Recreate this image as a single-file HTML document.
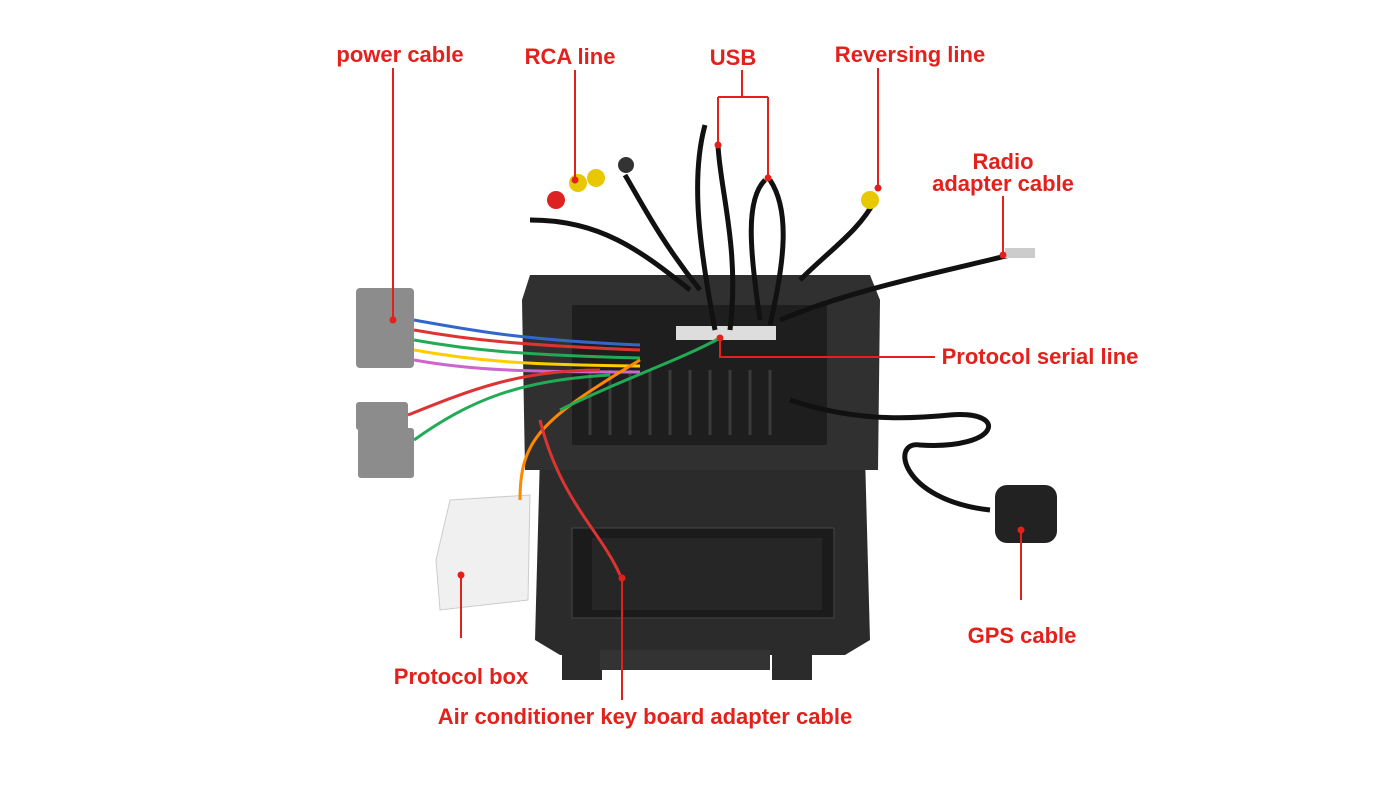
<!DOCTYPE html>
<html><head><meta charset="utf-8"><style>
html,body{margin:0;padding:0;background:#fff;}
body{width:1400px;height:788px;position:relative;overflow:hidden;font-family:"Liberation Sans",sans-serif;}
.l{position:absolute;color:#e4201c;font-weight:bold;font-size:22px;white-space:nowrap;transform:translateX(-50%);text-align:center;line-height:22px;}
svg{position:absolute;left:0;top:0;}
</style></head><body>
<svg width="1400" height="788" viewBox="0 0 1400 788">
  <!-- lower panel -->
  <path d="M540 455 L865 455 L870 640 L845 655 L560 655 L535 640 Z" fill="#2b2b2b"/>
  <rect x="572" y="528" width="262" height="90" fill="#1b1b1b" stroke="#444"/>
  <rect x="592" y="538" width="230" height="72" fill="#262626"/>
  <rect x="562" y="645" width="40" height="35" fill="#2b2b2b"/>
  <rect x="772" y="645" width="40" height="35" fill="#2b2b2b"/>
  <rect x="600" y="650" width="170" height="20" fill="#333"/>
  <!-- upper unit -->
  <path d="M530 275 L870 275 L880 300 L878 470 L525 470 L522 300 Z" fill="#303030"/>
  <rect x="572" y="305" width="255" height="140" fill="#1e1e1e"/>
  <g stroke="#3a3a3a" stroke-width="3">
    <line x1="590" y1="370" x2="590" y2="435"/><line x1="610" y1="370" x2="610" y2="435"/>
    <line x1="630" y1="370" x2="630" y2="435"/><line x1="650" y1="370" x2="650" y2="435"/>
    <line x1="670" y1="370" x2="670" y2="435"/><line x1="690" y1="370" x2="690" y2="435"/>
    <line x1="710" y1="370" x2="710" y2="435"/><line x1="730" y1="370" x2="730" y2="435"/>
    <line x1="750" y1="370" x2="750" y2="435"/><line x1="770" y1="370" x2="770" y2="435"/>
  </g>
  <rect x="676" y="326" width="100" height="14" fill="#ddd"/>
  <!-- grey connectors -->
  <rect x="356" y="288" width="58" height="80" rx="4" fill="#8c8c8c"/>
  <rect x="356" y="402" width="52" height="28" rx="3" fill="#8c8c8c"/>
  <rect x="358" y="428" width="56" height="50" rx="3" fill="#8c8c8c"/>
  <!-- protocol box -->
  <path d="M450 500 L530 495 L528 600 L440 610 L436 560 Z" fill="#f0f0f0" stroke="#ccc"/>
  <!-- wires -->
  <g fill="none" stroke-width="3">
    <path d="M414 330 C470 340 520 345 640 350" stroke="#d33"/>
    <path d="M414 340 C470 350 520 355 640 358" stroke="#2a5"/>
    <path d="M414 350 C470 360 520 365 640 366" stroke="#fc0"/>
    <path d="M414 320 C470 330 520 340 640 345" stroke="#36c"/>
    <path d="M414 360 C470 370 520 372 640 372" stroke="#c6c"/>
    <path d="M408 415 C470 390 520 370 600 370" stroke="#d33"/>
    <path d="M414 440 C470 400 520 380 610 375" stroke="#2a5"/>
    <path d="M520 500 C520 440 540 420 640 360" stroke="#f80"/>
    <path d="M620 575 C600 530 560 500 540 420" stroke="#d33"/>
    <path d="M560 410 C620 380 680 360 720 338" stroke="#2a5"/>
  </g>
  <g fill="none" stroke="#111" stroke-width="5">
    <path d="M715 330 C700 250 690 180 705 125"/>
    <path d="M730 330 C740 250 720 190 718 145"/>
    <path d="M760 320 C750 250 745 200 765 180"/>
    <path d="M770 325 C785 260 790 210 770 180"/>
    <path d="M780 320 C850 290 950 270 1010 255"/>
    <path d="M790 400 C850 420 900 420 950 415 C1010 410 1000 450 920 445 C890 440 900 500 990 510"/>
    <path d="M690 290 C640 250 600 220 530 220"/>
    <path d="M700 290 C660 240 640 200 625 175"/>
    <path d="M800 280 C830 250 860 230 875 200"/>
  </g>
  <circle cx="578" cy="183" r="9" fill="#e8c800"/><circle cx="596" cy="178" r="9" fill="#e8c800"/>
  <circle cx="556" cy="200" r="9" fill="#d22"/><circle cx="626" cy="165" r="8" fill="#333"/>
  <circle cx="870" cy="200" r="9" fill="#e8c800"/>
  <rect x="1005" y="248" width="30" height="10" fill="#ccc"/>
  <!-- GPS puck -->
  <rect x="995" y="485" width="62" height="58" rx="12" fill="#222"/>
  <!-- leader lines -->
  <g stroke="#e4201c" stroke-width="2" fill="none">
    <line x1="393" y1="68" x2="393" y2="320"/>
    <line x1="575" y1="70" x2="575" y2="180"/>
    <path d="M742 70 L742 97 M718 97 L768 97 M718 97 L718 145 M768 97 L768 178"/>
    <line x1="878" y1="68" x2="878" y2="188"/>
    <line x1="1003" y1="196" x2="1003" y2="255"/>
    <path d="M720 338 L720 357 L935 357"/>
    <line x1="1021" y1="530" x2="1021" y2="600"/>
    <line x1="461" y1="575" x2="461" y2="638"/>
    <line x1="622" y1="578" x2="622" y2="700"/>
  </g>
  <g fill="#e4201c">
    <circle cx="393" cy="320" r="3.5"/><circle cx="575" cy="180" r="3.5"/>
    <circle cx="718" cy="145" r="3.5"/><circle cx="768" cy="178" r="3.5"/>
    <circle cx="878" cy="188" r="3.5"/><circle cx="1003" cy="255" r="3.5"/>
    <circle cx="720" cy="338" r="3.5"/><circle cx="1021" cy="530" r="3.5"/>
    <circle cx="461" cy="575" r="3.5"/><circle cx="622" cy="578" r="3.5"/>
  </g>
</svg>
<div class="l" style="left:400px;top:44px">power cable</div>
<div class="l" style="left:570px;top:46px">RCA line</div>
<div class="l" style="left:733px;top:47px">USB</div>
<div class="l" style="left:910px;top:44px">Reversing line</div>
<div class="l" style="left:1003px;top:151px">Radio<br>adapter cable</div>
<div class="l" style="left:1040px;top:346px">Protocol serial line</div>
<div class="l" style="left:1022px;top:625px">GPS cable</div>
<div class="l" style="left:461px;top:666px">Protocol box</div>
<div class="l" style="left:645px;top:706px">Air conditioner key board adapter cable</div>
</body></html>
